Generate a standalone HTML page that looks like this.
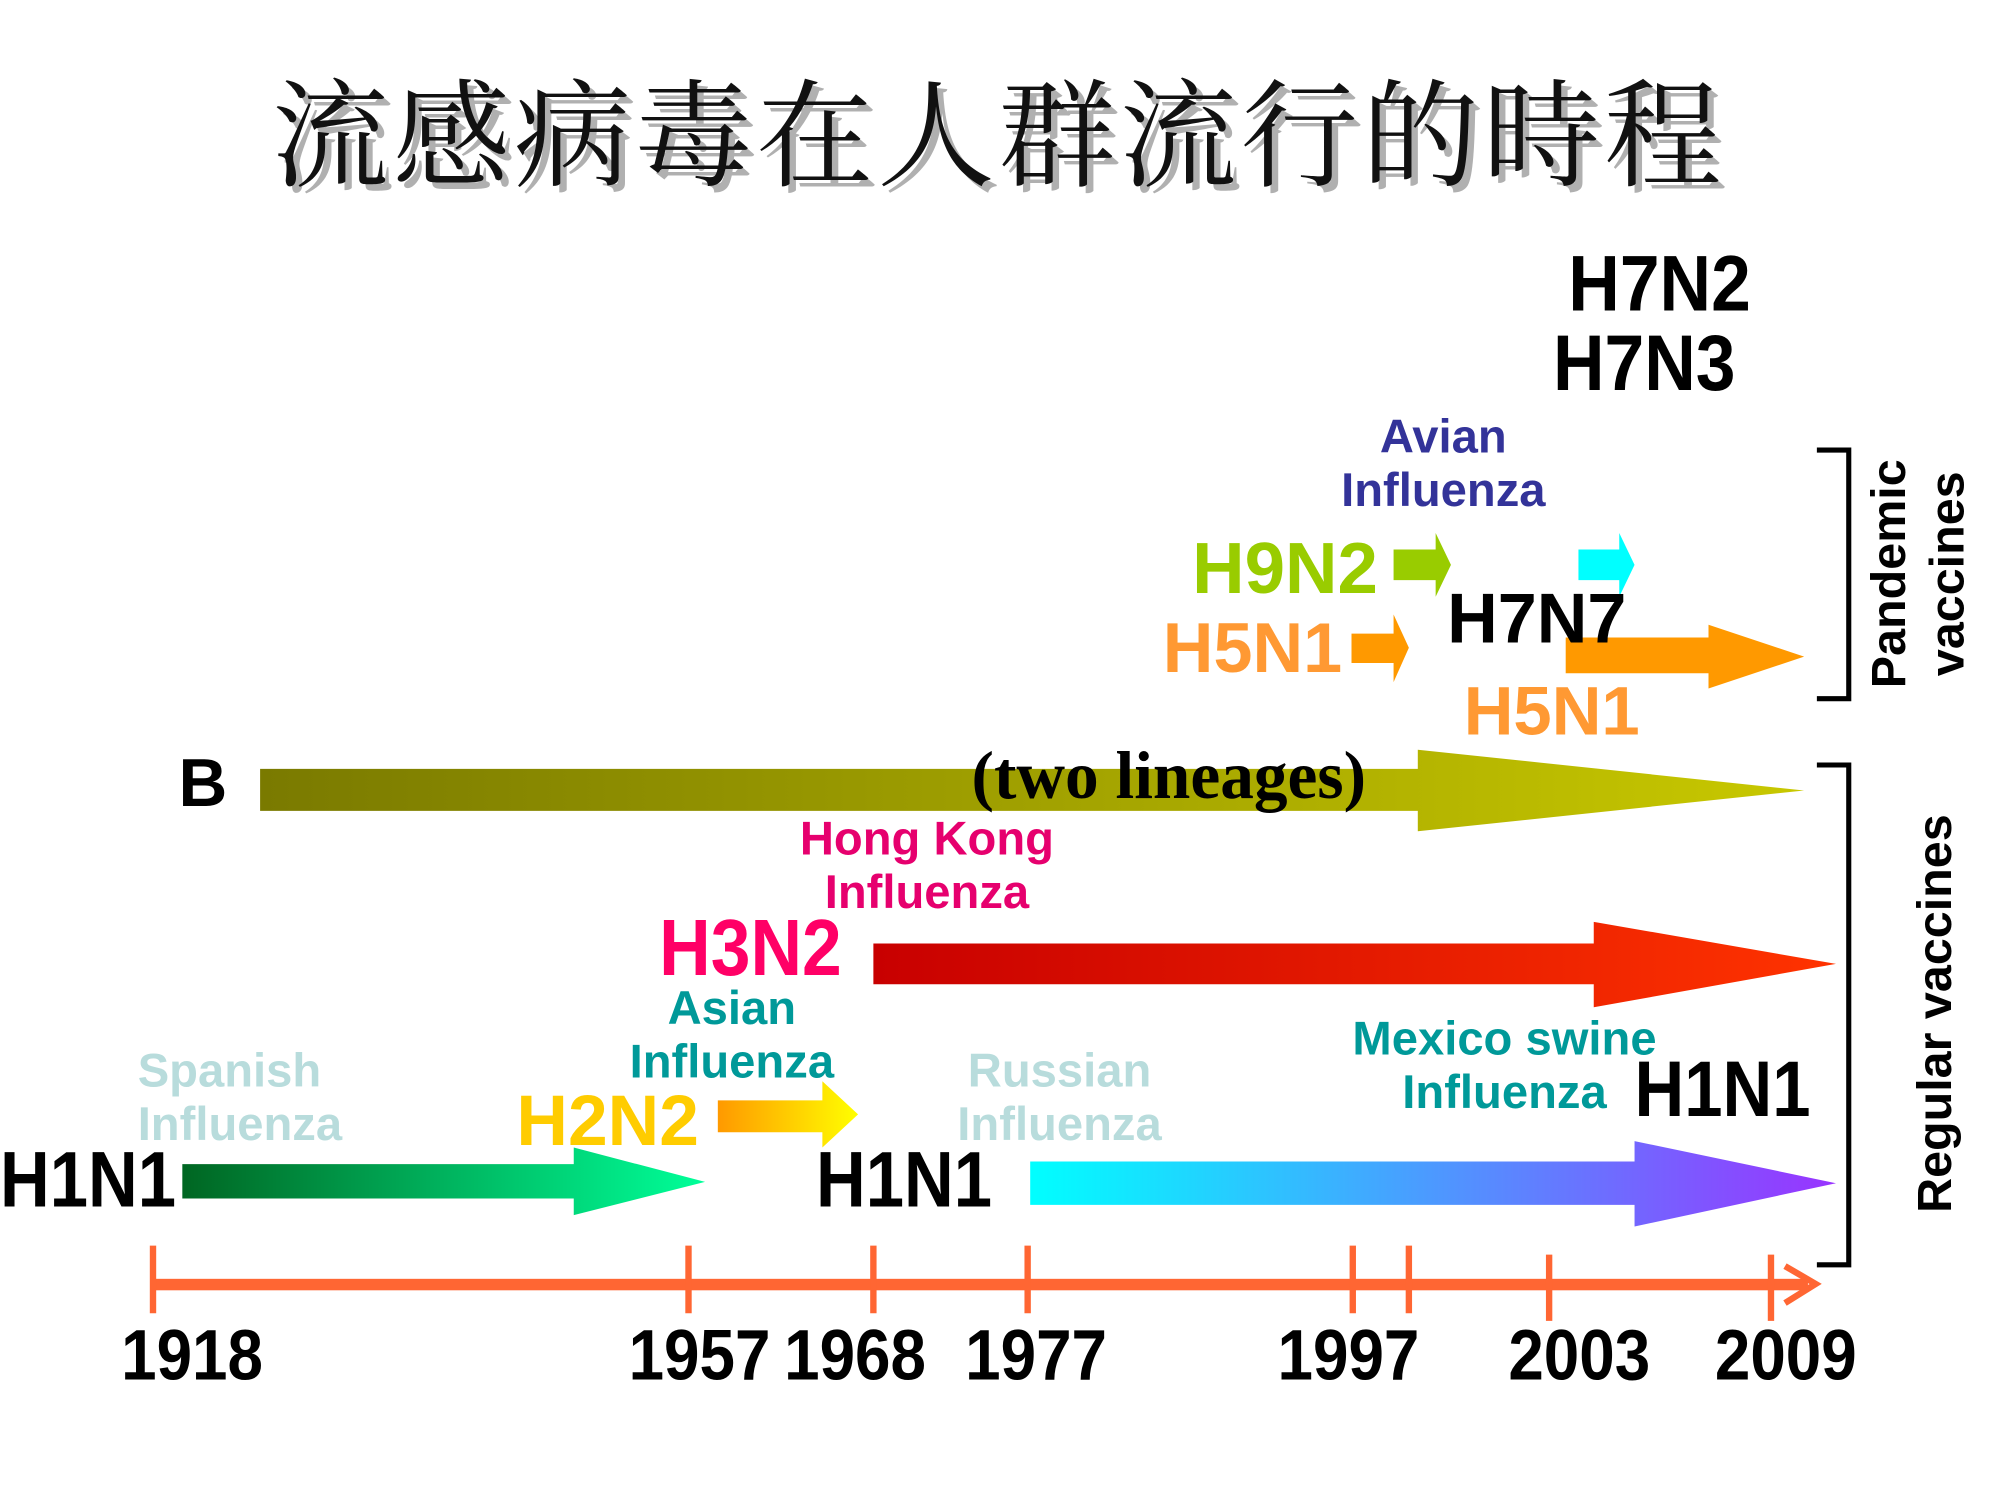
<!DOCTYPE html>
<html><head><meta charset="utf-8"><style>
html,body{margin:0;padding:0;background:#fff;overflow:hidden}
#w{position:absolute;left:0;top:0;width:1570px;height:1177px;transform:scale(1.275);transform-origin:0 0}
.t{position:absolute;font-family:"Liberation Sans",Arial,sans-serif;font-weight:bold;line-height:1;white-space:nowrap;transform-origin:0 0}
.c{position:absolute;font-family:"Liberation Sans",Arial,sans-serif;font-weight:bold;line-height:42px;text-align:center;width:300px;font-size:37px}
svg{position:absolute;left:0;top:0}
</style></head><body><div id="w">
<svg width="1570" height="1177" viewBox="0 0 1570 1177">
<defs>
<linearGradient id="gB" x1="0" x2="1"><stop offset="0" stop-color="#7a7a00"/><stop offset="1" stop-color="#c8c800"/></linearGradient>
<linearGradient id="gR" x1="0" x2="1"><stop offset="0" stop-color="#c80000"/><stop offset="1" stop-color="#ff3300"/></linearGradient>
<linearGradient id="gG" x1="0" x2="1"><stop offset="0" stop-color="#006622"/><stop offset="1" stop-color="#00ff99"/></linearGradient>
<linearGradient id="gY" x1="0" x2="1"><stop offset="0" stop-color="#ff9900"/><stop offset="1" stop-color="#ffff00"/></linearGradient>
<linearGradient id="gP" x1="0" x2="1"><stop offset="0" stop-color="#00ffff"/><stop offset="1" stop-color="#9933ff"/></linearGradient>
</defs>
<polygon points="204,603 1112,603 1112,588 1415,620 1112,652 1112,636 204,636" fill="url(#gB)"/>
<polygon points="685,740 1250,740 1250,723 1440,756 1250,790 1250,772 685,772" fill="url(#gR)"/>
<polygon points="143,913 450,913 450,900 553,927 450,953 450,940 143,940" fill="url(#gG)"/>
<polygon points="563,863 645,863 645,848 673,874 645,900 645,888 563,888" fill="url(#gY)"/>
<polygon points="808,911 1282,911 1282,895 1440,928 1282,962 1282,945 808,945" fill="url(#gP)"/>
<polygon points="1093,431 1126,431 1126,418 1138,443 1126,468 1126,455 1093,455" fill="#99cc00"/>
<polygon points="1238,431 1270,431 1270,418 1282,443 1270,468 1270,455 1238,455" fill="#00ffff"/>
<polygon points="1060,497 1093,497 1093,482 1105,508 1093,535 1093,520 1060,520" fill="#ff9900"/>
<polygon points="1228,500 1340,500 1340,490 1415,515 1340,540 1340,528 1228,528" fill="#ff9900"/>
<polyline points="1425,353 1450,353 1450,548 1425,548" fill="none" stroke="#000" stroke-width="4"/>
<polyline points="1425,600 1450,600 1450,992 1425,992" fill="none" stroke="#000" stroke-width="4"/>
<rect x="118" y="1003" width="1300" height="9" fill="#ff6633"/>
<polyline points="1400,993 1424,1007 1400,1022" fill="none" stroke="#ff6633" stroke-width="5"/>
<g stroke="#ff6633" stroke-width="5">
<line x1="120" y1="977" x2="120" y2="1030"/><line x1="540" y1="977" x2="540" y2="1030"/>
<line x1="685" y1="977" x2="685" y2="1030"/><line x1="806" y1="977" x2="806" y2="1030"/>
<line x1="1061" y1="977" x2="1061" y2="1030"/><line x1="1105" y1="977" x2="1105" y2="1030"/>
<line x1="1215" y1="984" x2="1215" y2="1036"/><line x1="1389" y1="984" x2="1389" y2="1036"/>
</g>
</svg>

<div style="position:absolute;left:213px;top:58px;font-family:'Liberation Serif','Noto Serif CJK SC',serif;font-size:92px;letter-spacing:3px;line-height:1.1;color:#111;text-shadow:5px 5px 0 #b0b0b0;white-space:nowrap">流感病毒在人群流行的時程</div>

<div class="t" style="left:1230px;top:192px;font-size:56px;transform:scaleY(1.1)">H7N2</div>
<div class="t" style="left:1218px;top:254px;font-size:56px;transform:scaleY(1.1)">H7N3</div>
<div class="c" style="left:982px;top:322px;color:#333399">Avian<br>Influenza</div>
<div class="t" style="left:935px;top:418px;font-size:57px;color:#99cc00">H9N2</div>
<div class="t" style="left:912px;top:481px;font-size:55px;color:#ff9933">H5N1</div>
<div class="t" style="left:1135px;top:458px;font-size:55px;color:#000">H7N7</div>
<div class="t" style="left:1148px;top:531px;font-size:54px;color:#ff9933">H5N1</div>
<div class="t" style="left:140px;top:588px;font-size:53px">B</div>
<div class="t" style="left:762px;top:583px;font-family:'Liberation Serif',serif;font-size:48px;transform:scale(1.1,1.1)">(two lineages)</div>
<div class="c" style="left:577px;top:637px;color:#e6006e">Hong Kong<br>Influenza</div>
<div class="t" style="left:517px;top:712px;font-size:56px;color:#ff0066;transform:scaleY(1.12)">H3N2</div>
<div class="c" style="left:424px;top:770px;color:#009999">Asian<br>Influenza</div>
<div class="c" style="left:108px;top:819px;color:#b8dcdc;text-align:left">Spanish<br>Influenza</div>
<div class="c" style="left:681px;top:819px;color:#b8dcdc">Russian<br>Influenza</div>
<div class="c" style="left:1030px;top:794px;color:#009999">Mexico swine<br>Influenza</div>
<div class="t" style="left:405px;top:851px;font-size:56px;color:#ffcc00">H2N2</div>
<div class="t" style="left:0px;top:895px;font-size:54px;transform:scaleY(1.14)">H1N1</div>
<div class="t" style="left:640px;top:895px;font-size:54px;transform:scaleY(1.14)">H1N1</div>
<div class="t" style="left:1282px;top:824px;font-size:54px;transform:scaleY(1.14)">H1N1</div>

<div class="t" style="left:95px;top:1035px;font-size:50px;transform:scaleY(1.12)">1918</div>
<div class="t" style="left:493px;top:1035px;font-size:50px;transform:scaleY(1.12)">1957</div>
<div class="t" style="left:615px;top:1035px;font-size:50px;transform:scaleY(1.12)">1968</div>
<div class="t" style="left:757px;top:1035px;font-size:50px;transform:scaleY(1.12)">1977</div>
<div class="t" style="left:1002px;top:1035px;font-size:50px;transform:scaleY(1.12)">1997</div>
<div class="t" style="left:1183px;top:1035px;font-size:50px;transform:scaleY(1.12)">2003</div>
<div class="t" style="left:1345px;top:1035px;font-size:50px;transform:scaleY(1.12)">2009</div>

<div style="position:absolute;left:1505px;top:450px;transform:translate(-50%,-50%) rotate(-90deg);font-family:'Liberation Sans',Arial,sans-serif;font-weight:bold;font-size:38px;line-height:46px;text-align:center;white-space:nowrap">Pandemic<br>vaccines</div>
<div style="position:absolute;left:1518px;top:795px;transform:translate(-50%,-50%) rotate(-90deg);font-family:'Liberation Sans',Arial,sans-serif;font-weight:bold;font-size:38px;line-height:44px;white-space:nowrap">Regular vaccines</div>
</div></body></html>
